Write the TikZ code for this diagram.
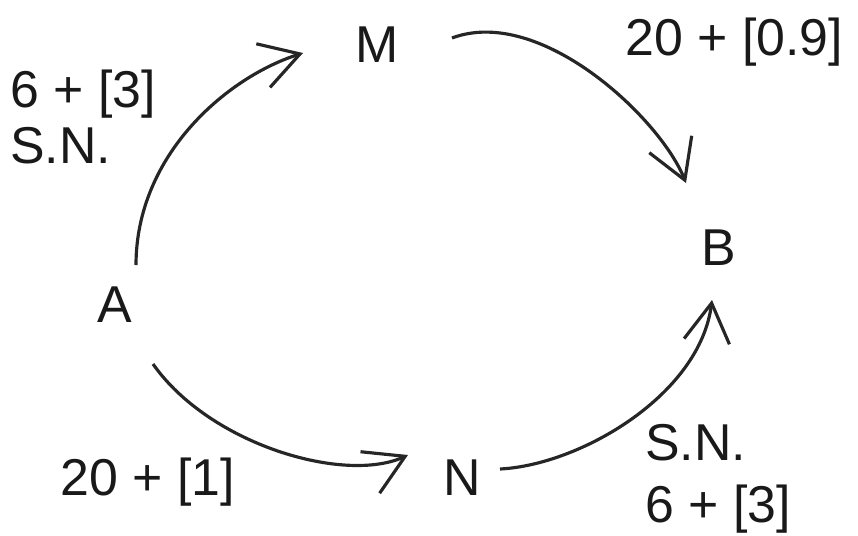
\documentclass[tikz,border=0pt]{standalone}
\usepackage{fontspec}
\setmainfont{Liberation Sans}
\usetikzlibrary{arrows.meta}
\begin{document}
\begin{tikzpicture}[x=0.02cm,y=-0.02cm,
  lbl/.style={inner sep=0pt, font=\fontsize{29.5}{35}\selectfont, text=black!90},
  arr/.style={line width=1.8pt, draw=black!85,
    -{Straight Barb[length=22pt,width=26pt,line width=1.8pt]}}]
\useasboundingbox (0,0) rectangle (858,535);
% places
\node[lbl,anchor=base] (M) at (377.5,62) {M};
\node[lbl,anchor=base] (B) at (719,265) {B};
\node[lbl,anchor=base] (A) at (115,322) {A};
\node[lbl,anchor=base] (N) at (462.5,495) {N};
% labels
\node[lbl,anchor=base west] (l1a) at (10,107) {6 + [3]};
\node[lbl,anchor=base west] (l1b) at (10,163) {S.N.};
\node[lbl,anchor=base west] (l2) at (625,55) {20 + [0.9]};
\node[lbl,anchor=base west] (l3) at (60,495) {20 + [1]};
\node[lbl,anchor=base west] (l4a) at (645,460) {S.N.};
\node[lbl,anchor=base west] (l4b) at (645,522) {6 + [3]};
% connectors
\draw[arr] ([shift={(21,-57)}]A.base) .. controls +(0,-110) and +(-76,24) .. ([shift={(-74.5,-9)}]M.base);
\draw[arr] ([shift={(74.5,-24)}]M.base) .. controls +(88,-33) and +(-26,-65) .. ([shift={(-33,-82)}]B.base);
\draw[arr] ([shift={(38,42)}]A.base) .. controls +(57,81) and +(-63,29) .. ([shift={(-54.5,-40)}]N.base);
\draw[arr] ([shift={(37.5,-26)}]N.base) .. controls +(80,-4) and +(-12,95) .. ([shift={(-7,35)}]B.base);
\end{tikzpicture}
\end{document}
